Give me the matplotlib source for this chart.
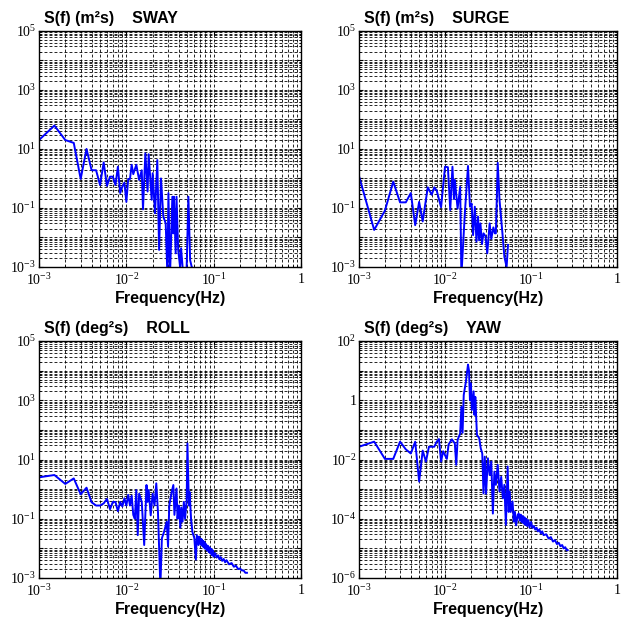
import math
import matplotlib
matplotlib.use('Agg')
import matplotlib.pyplot as plt

plt.rcParams['mathtext.fontset'] = 'custom'
plt.rcParams['mathtext.rm'] = 'Liberation Serif'
plt.rcParams['mathtext.it'] = 'Liberation Serif:italic'

# spectra: frequency (Hz) and S(f)
sway_f = [0.001, 0.0015, 0.002, 0.0025, 0.003, 0.0035, 0.004, 0.0045, 0.005, 0.0055,
          0.006, 0.0065, 0.007, 0.0075, 0.008, 0.0085, 0.009, 0.0095, 0.01, 0.0105,
          0.011, 0.0115, 0.012, 0.013, 0.014, 0.015, 0.0155, 0.0165, 0.0175, 0.018,
          0.0195, 0.02, 0.0213, 0.0226, 0.0237, 0.0249, 0.0265, 0.0282, 0.0295, 0.0303,
          0.0316, 0.0336, 0.0345, 0.035, 0.0367, 0.0375, 0.0392, 0.0412, 0.0423, 0.044,
          0.0469, 0.049, 0.0513, 0.0537, 0.056, 0.0585]
sway_s = [20, 62, 20, 16, 0.96, 10, 1.9, 1.9, 0.6, 3.5,
          0.56, 1.15, 1.15, 0.6, 2.5, 0.32, 0.53, 0.72, 0.16, 0.96,
          0.96, 2.9, 1.4, 2.9, 0.89, 1.9, 0.09, 7.1, 0.36, 6.6,
          0.19, 1.5, 0.066, 4.2, 0.0038, 1.0, 0.051, 0.03, 0.0005, 0.32,
          0.0005, 0.24, 0.0138, 0.24, 0.0029, 0.24, 0.0038, 0.001, 0.0043, 0.001,
          0.0005, 0.001, 0.24, 0.0017, 0.001, 0.0009]

surge_f = [0.001, 0.0015, 0.002, 0.0025, 0.003, 0.0035, 0.004, 0.0045, 0.005, 0.0055,
           0.0063, 0.007, 0.0075, 0.008, 0.009, 0.01, 0.0108, 0.0115, 0.0122, 0.0127,
           0.013, 0.014, 0.015, 0.0155, 0.017, 0.0185, 0.0195, 0.0204, 0.0212, 0.0222,
           0.0232, 0.0242, 0.0249, 0.0258, 0.0269, 0.028, 0.0296, 0.031, 0.033, 0.0345,
           0.0365, 0.038, 0.039, 0.041, 0.043, 0.0465, 0.049, 0.052, 0.054]
surge_s = [1.2, 0.018, 0.081, 0.78, 0.155, 0.155, 0.32, 0.026, 0.16, 0.035,
           0.5, 0.28, 0.5, 0.39, 0.105, 2.5, 2.4, 0.085, 2.5, 0.2,
           0.89, 0.095, 0.52, 0.0005, 0.066, 2.65, 0.11, 0.14, 0.012, 0.11,
           0.0072, 0.051, 0.008, 0.03, 0.006, 0.0138, 0.011, 0.0029, 0.03, 0.009,
           0.022, 0.0138, 0.0138, 3.4, 0.19, 0.0138, 0.0022, 0.001, 0.0056]

roll_f = [0.001, 0.0015, 0.002, 0.0025, 0.003, 0.0035, 0.004, 0.0045, 0.005, 0.0055,
          0.006, 0.0065, 0.007, 0.0075, 0.008, 0.0085, 0.009, 0.0095, 0.01, 0.0105,
          0.011, 0.0115, 0.012, 0.0125, 0.013, 0.0135, 0.014, 0.015, 0.016, 0.017,
          0.0175, 0.018, 0.019, 0.02, 0.021, 0.022, 0.023, 0.0245, 0.0255, 0.027,
          0.029, 0.03, 0.031, 0.033, 0.0345, 0.0355, 0.0375, 0.0385, 0.04, 0.0415,
          0.0425, 0.044, 0.0455, 0.047, 0.049, 0.05, 0.052, 0.053, 0.055, 0.057,
          0.06, 0.0625, 0.064, 0.067,
          0.068, 0.070, 0.071, 0.072, 0.073, 0.074, 0.075, 0.076, 0.077, 0.078,
          0.079, 0.080, 0.082, 0.084, 0.086, 0.088, 0.090, 0.092, 0.094, 0.096,
          0.098, 0.100, 0.104, 0.108, 0.112, 0.116, 0.120, 0.125, 0.130, 0.135,
          0.140, 0.150, 0.160, 0.170, 0.180, 0.190, 0.200, 0.210, 0.220, 0.230, 0.240]
roll_s = [2.5, 3.0, 1.5, 2.3, 0.67, 1.12, 0.36, 0.28, 0.28, 0.33,
          0.47, 0.21, 0.37, 0.37, 0.18, 0.37, 0.26, 0.49, 0.28, 0.64,
          0.28, 0.6, 0.135, 0.1, 0.93, 0.028, 0.7, 0.37, 0.013, 1.38,
          0.37, 0.93, 0.13, 0.7, 0.28, 1.57, 0.17, 0.0005, 0.022, 0.036,
          0.08, 0.0115, 0.28, 0.8, 1.38, 0.135, 1.05, 0.1, 0.28, 0.05,
          0.24, 0.08, 0.37, 0.1, 0.43, 35, 0.28, 0.8, 0.1, 0.036,
          0.022, 0.0042, 0.028, 0.013,
          0.025, 0.0144, 0.021, 0.013, 0.020, 0.012, 0.018, 0.0112, 0.017, 0.0104,
          0.0156, 0.0096, 0.0138, 0.0084, 0.0122, 0.0074, 0.0109, 0.0066, 0.0096, 0.0058,
          0.0085, 0.0052, 0.0069, 0.0049, 0.0058, 0.0043, 0.0051, 0.0038, 0.0044, 0.0034,
          0.0040, 0.0029, 0.0032, 0.0024, 0.0026, 0.0020, 0.0021, 0.0018, 0.0018, 0.0015, 0.0015]

yaw_f = [0.001, 0.0015, 0.002, 0.0025, 0.003, 0.0035, 0.004, 0.0045, 0.005, 0.0055,
         0.006, 0.0065, 0.0075, 0.008, 0.0085, 0.009, 0.0095, 0.0105, 0.011, 0.012,
         0.013, 0.0135, 0.014, 0.015, 0.0155, 0.016, 0.0165, 0.0175, 0.0185, 0.019,
         0.0195, 0.02, 0.0205, 0.0215, 0.022, 0.0225, 0.0235, 0.025, 0.026, 0.0271,
         0.028, 0.029, 0.03, 0.0315, 0.033, 0.0345, 0.036, 0.0375, 0.039, 0.041,
         0.043, 0.045, 0.047, 0.049, 0.051, 0.0535, 0.055, 0.0565, 0.058, 0.061,
         0.063, 0.065, 0.067, 0.070,
         0.072, 0.074, 0.076, 0.078, 0.080, 0.082, 0.084, 0.086, 0.088, 0.090,
         0.093, 0.096, 0.100, 0.104, 0.108, 0.112, 0.116, 0.120, 0.125, 0.130,
         0.135, 0.140, 0.150, 0.160, 0.170, 0.180, 0.190, 0.200, 0.210, 0.220,
         0.230, 0.240, 0.250, 0.260, 0.267]
yaw_s = [0.027, 0.04, 0.0105, 0.0105, 0.04, 0.022, 0.016, 0.04, 0.0018, 0.02,
         0.0085, 0.027, 0.027, 0.04, 0.049, 0.0085, 0.019, 0.0105, 0.032, 0.048,
         0.035, 0.0066, 0.046, 0.076, 0.6, 0.08, 1.5, 4.3, 16, 10,
         1.0, 3.7, 0.47, 2.0, 0.32, 1.3, 0.068, 0.052, 0.024, 0.016,
         0.00072, 0.0125, 0.0007, 0.011, 0.003, 0.0085, 0.00015, 0.0039, 0.0014, 0.0066,
         0.00083, 0.0026, 0.00049, 0.0014, 0.000062, 0.0058, 0.00017, 0.00083, 0.00017, 0.00038,
         0.00008, 0.00017, 0.00006, 0.000135,
         1.5e-4, 8.6e-5, 1.38e-4, 7.7e-5, 1.24e-4, 6.9e-5, 1.12e-4, 6.2e-5, 1.0e-4, 5.7e-5,
         9.0e-5, 5.0e-5, 7.8e-5, 4.9e-5, 5.7e-5, 4.3e-5, 5.0e-5, 3.75e-5, 4.4e-5, 3.2e-5,
         3.75e-5, 2.8e-5, 3.0e-5, 2.15e-5, 2.4e-5, 1.7e-5, 1.9e-5, 1.4e-5, 1.55e-5, 1.18e-5,
         1.3e-5, 1.0e-5, 1.1e-5, 8.6e-6, 8.7e-6]

x_ticks = [1e-3, 1e-2, 1e-1, 1]
x_labels = ['$10^{-3}$', '$10^{-2}$', '$10^{-1}$', '1']
y_ticks_a = [1e-3, 1e-1, 1e1, 1e3, 1e5]
y_labels_a = ['$10^{-3}$', '$10^{-1}$', '$10^{1}$', '$10^{3}$', '$10^{5}$']
y_ticks_b = [1e-6, 1e-4, 1e-2, 1, 1e2]
y_labels_b = ['$10^{-6}$', '$10^{-4}$', '$10^{-2}$', '1', '$10^{2}$']


def log_grid(lo, hi):
    major, minor = [], []
    for e in range(lo, hi):
        major.append(10.0 ** e)
        for k in range(2, 10):
            minor.append(k * 10.0 ** e)
    major.append(10.0 ** hi)
    return major, minor


def panel(rect, f, s, title, yt, yl, ylim):
    ax = fig.add_axes(rect)
    ax.plot(f, s, color='#0000ff', lw=1.4)
    ax.set_xscale('log')
    ax.set_yscale('log')
    ax.set_xlim(1e-3, 1)
    ax.set_ylim(*ylim)

    xmaj, xmin = log_grid(-3, 0)
    ymaj, ymin = log_grid(int(round(math.log10(ylim[0]))), int(round(math.log10(ylim[1]))))
    ax.set_xticks(x_ticks)
    ax.set_xticklabels(x_labels, family='Liberation Serif', fontsize=10)
    ax.set_xticks(xmin, minor=True)
    ax.set_yticks(ymaj)
    ax.set_yticklabels([yl[yt.index(v)] if v in yt else '' for v in ymaj],
                       family='Liberation Serif', fontsize=10)
    ax.set_yticks(ymin, minor=True)
    ax.xaxis.set_minor_formatter(plt.NullFormatter())
    ax.yaxis.set_minor_formatter(plt.NullFormatter())
    ax.grid(True, which='both', color='black', ls=(0, (3.5, 2.5)), lw=0.6)
    ax.tick_params(which='both', direction='in', top=True, right=True)
    ax.tick_params(axis='x', pad=4)
    ax.tick_params(axis='y', pad=2)
    ax.tick_params(which='major', length=3)
    ax.tick_params(which='minor', length=1.5)
    for sp in ax.spines.values():
        sp.set_linewidth(1.0)
    ax.text(0.02, 1.02, title, transform=ax.transAxes, ha='left', va='bottom',
            family='Liberation Sans', weight='bold', fontsize=11.5)
    ax.set_xlabel('Frequency(Hz)', family='Liberation Sans', weight='bold',
                  fontsize=11.5, labelpad=2)
    return ax


fig = plt.figure(figsize=(6.27, 6.18), dpi=100)
panel([0.0622, 0.568, 0.418, 0.382], sway_f, sway_s, 'S(f) (m²s)    SWAY',
      y_ticks_a, y_labels_a, (1e-3, 1e5))
panel([0.5726, 0.568, 0.4115, 0.382], surge_f, surge_s, 'S(f) (m²s)    SURGE',
      y_ticks_a, y_labels_a, (1e-3, 1e5))
panel([0.0622, 0.0647, 0.418, 0.3835], roll_f, roll_s, 'S(f) (deg²s)    ROLL',
      y_ticks_a, y_labels_a, (1e-3, 1e5))
panel([0.5726, 0.0647, 0.4115, 0.3835], yaw_f, yaw_s, 'S(f) (deg²s)    YAW',
      y_ticks_b, y_labels_b, (1e-6, 1e2))

fig.savefig('out.png', dpi=100)
